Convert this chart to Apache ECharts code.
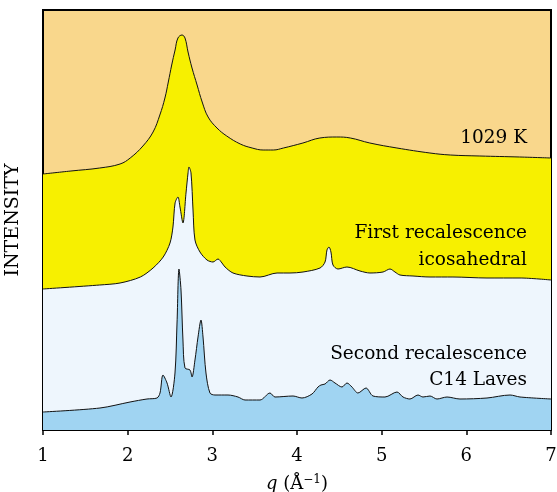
<!DOCTYPE html>
<html>
<head>
<meta charset="utf-8">
<script src="https://cdn.jsdelivr.net/npm/echarts@6/dist/echarts.min.js"></script>
<style>
  html, body { margin: 0; padding: 0; background: #fff; }
  #chart { width: 557px; height: 492px; }
</style>
</head>
<body>
<div id="chart"></div>
<script>
// q values (1/Angstrom) and intensities (arbitrary, offset per curve)
var liquidQ = [1.00, 1.33, 1.67, 1.91, 2.03, 2.18, 2.30, 2.38, 2.44, 2.48, 2.52, 2.56, 2.594, 2.642, 2.677, 2.713, 2.76, 2.82, 2.88, 2.95, 3.055, 3.17, 3.33, 3.47, 3.60, 3.72, 3.84, 4.07, 4.27, 4.47, 4.63, 4.86, 5.18, 5.57, 5.81, 6.16, 6.63, 7.00];
var liquidI = [256, 259, 262, 266, 272, 284, 298, 315, 332, 348, 365, 380, 392, 395, 392, 378, 362, 345, 328, 313, 302, 294, 286, 282, 280, 280, 282, 287, 292, 293, 292, 287, 282, 277, 275, 274, 273, 272];

var icoQ = [1.00, 1.67, 1.91, 2.15, 2.30, 2.42, 2.50, 2.535, 2.56, 2.594, 2.618, 2.653, 2.689, 2.713, 2.724, 2.748, 2.772, 2.795, 2.854, 2.937, 3.008, 3.067, 3.114, 3.15, 3.244, 3.409, 3.563, 3.764, 3.917, 4.071, 4.272, 4.331, 4.354, 4.378, 4.401, 4.425, 4.484, 4.59, 4.744, 4.862, 5.016, 5.098, 5.157, 5.216, 5.37, 5.571, 5.842, 6.244, 6.634, 7.00];
var icoI = [141, 145, 147, 153, 162, 173, 187, 203, 227, 233, 223, 207, 237, 257, 263, 257, 220, 190, 178, 170, 168, 171, 167, 163, 157, 154, 153, 157, 157, 158, 162, 168, 180, 183, 178, 165, 161, 163, 159, 157, 158, 161, 158, 155, 154, 153, 153, 152, 152, 150];

var lavesQ = [1.00, 1.673, 2.028, 2.228, 2.346, 2.382, 2.417, 2.465, 2.512, 2.559, 2.583, 2.606, 2.63, 2.653, 2.677, 2.736, 2.76, 2.795, 2.831, 2.866, 2.89, 2.925, 2.972, 3.031, 3.185, 3.303, 3.386, 3.563, 3.681, 3.74, 3.953, 4.059, 4.177, 4.248, 4.283, 4.331, 4.39, 4.449, 4.531, 4.59, 4.649, 4.72, 4.815, 4.898, 5.039, 5.181, 5.252, 5.334, 5.429, 5.488, 5.571, 5.653, 5.772, 5.925, 6.244, 6.516, 6.634, 7.00];
var lavesI = [18, 22, 28, 31, 32, 37, 55, 47, 33, 57, 107, 161, 140, 90, 62, 60, 53, 70, 93, 110, 93, 57, 37, 35, 35, 33, 30, 30, 37, 33, 34, 32, 36, 43, 45, 46, 50, 47, 43, 47, 43, 37, 42, 34, 33, 38, 33, 31, 35, 33, 34, 31, 33, 31, 32, 35, 33, 31];

var xTicks = [1, 2, 3, 4, 5, 6, 7];

function pairs(xs, ys) {
  return xs.map(function (x, i) { return [x, ys[i]]; });
}

function curve(name, xs, ys, fill, smooth) {
  return {
    name: name,
    type: 'line',
    smooth: smooth,
    symbol: 'none',
    data: pairs(xs, ys),
    lineStyle: { color: '#111', width: 1 },
    areaStyle: { color: fill, opacity: 1 }
  };
}

function note(text, top) {
  return {
    type: 'text', right: 30, top: top, z: 100,
    style: { text: text, font: '18.5px ' + serif, fill: '#000' }
  };
}

var serif = '"DejaVu Serif", "Liberation Serif", serif';
var chart = echarts.init(document.getElementById('chart'));

var option = {
  animation: false,
  grid: {
    left: 43, right: 6, top: 10, bottom: 62,
    outerBoundsMode: 'none',
    containLabel: false,
    show: true,
    backgroundColor: '#f9d78c',
    borderColor: '#000',
    borderWidth: 2
  },
  xAxis: {
    type: 'value',
    min: xTicks[0],
    max: xTicks[xTicks.length - 1],
    interval: 1,
    name: '{i|q} (Å{s|−1})',
    nameLocation: 'middle',
    nameGap: 44,
    nameTextStyle: {
      fontFamily: serif, fontSize: 18, color: '#000',
      rich: {
        i: { fontFamily: serif, fontStyle: 'italic', fontSize: 18 },
        s: { fontFamily: serif, fontSize: 12, verticalAlign: 'top', padding: [0, 0, 8, 0] }
      }
    },
    splitLine: { show: false },
    axisLine: { lineStyle: { color: '#000', width: 2 } },
    axisTick: { show: true, length: 5, lineStyle: { color: '#000', width: 1.5 } },
    axisLabel: { fontFamily: serif, fontSize: 18, color: '#000', margin: 17 }
  },
  yAxis: {
    type: 'value',
    min: 0,
    max: 420,
    name: 'INTENSITY',
    nameLocation: 'middle',
    nameGap: 20,
    nameTextStyle: { fontFamily: serif, fontSize: 19, color: '#000' },
    splitLine: { show: false },
    axisLine: { show: true, lineStyle: { color: '#000', width: 2 } },
    axisTick: { show: false },
    axisLabel: { show: false }
  },
  series: [
    curve('1029 K', liquidQ, liquidI, '#f7f000', 0.4),
    curve('First recalescence icosahedral', icoQ, icoI, '#eef6fd', 0.3),
    curve('Second recalescence C14 Laves', lavesQ, lavesI, '#a0d4f2', 0.3)
  ],
  graphic: [
    note('1029 K', 129),
    note('First recalescence', 224),
    note('icosahedral', 251),
    note('Second recalescence', 345),
    note('C14 Laves', 371)
  ]
};

chart.setOption(option);
</script>
</body>
</html>
